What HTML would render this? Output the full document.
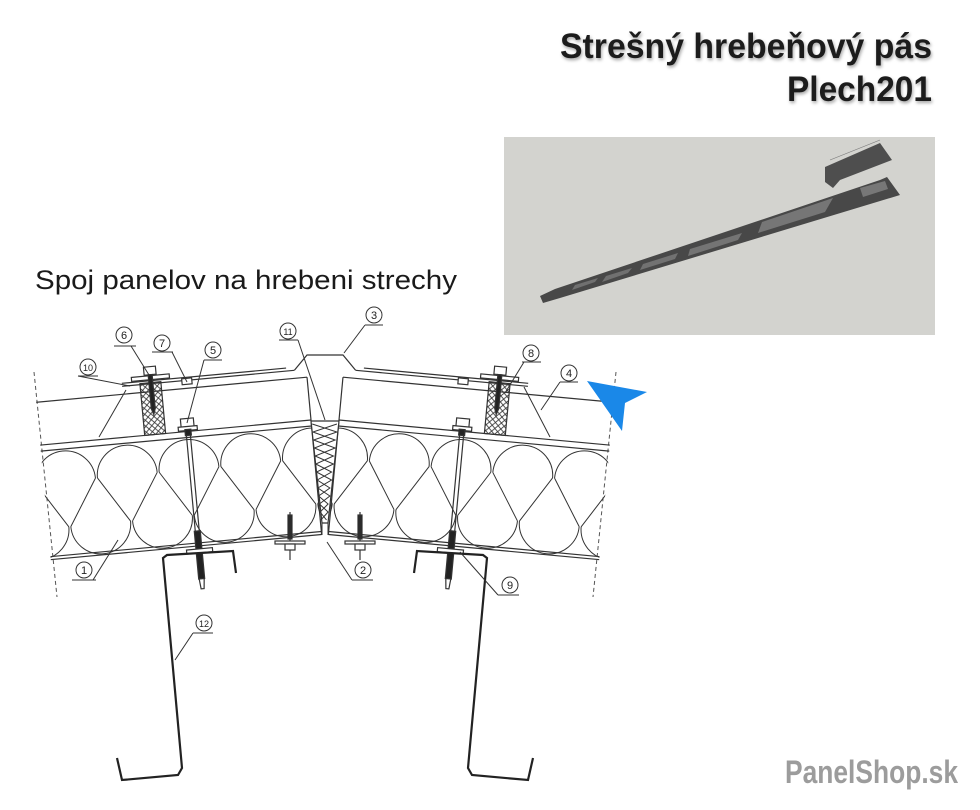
<!DOCTYPE html>
<html><head><meta charset="utf-8"><style>
html,body{margin:0;padding:0;background:#fff;}
svg{display:block;}
</style></head><body>
<svg width="980" height="810" viewBox="0 0 980 810" xmlns="http://www.w3.org/2000/svg" font-family="Liberation Sans, sans-serif">
<defs>
<pattern id="hatch" width="6" height="6" patternUnits="userSpaceOnUse">
<path d="M0,0L6,6M6,0L0,6" stroke="#333" stroke-width="0.8"/>
</pattern>
<clipPath id="pc"><rect x="-272" y="-80" width="272" height="200"/></clipPath>
<filter id="sh" x="-5%" y="-20%" width="110%" height="150%"><feDropShadow dx="1" dy="2" stdDeviation="1.5" flood-color="#000" flood-opacity="0.35"/></filter>
<g id="half" stroke="#333" stroke-width="1.2" fill="none">
  <g transform="translate(311,420) rotate(-5.3)">
    <g clip-path="url(#pc)">
      <line x1="-290" y1="-43" x2="0" y2="-43"/>
      <line x1="-290" y1="0" x2="0" y2="0"/>
      <line x1="-290" y1="6" x2="0" y2="6"/>
      <line x1="-290" y1="112" x2="0" y2="112"/>
      <line x1="-290" y1="115" x2="0" y2="115"/>
      <path stroke-width="1" d="M-342,38A30,30 0 0 1 -282,38 M-280,38A30,30 0 0 1 -220,38 M-218,38A30,30 0 0 1 -158,38 M-156,38A30,30 0 0 1 -96,38 M-94,38A30,30 0 0 1 -34,38 M-32,38A30,30 0 0 1 28,38
      M-311,84A30,30 0 0 0 -251,84 M-249,84A30,30 0 0 0 -189,84 M-187,84A30,30 0 0 0 -127,84 M-125,84A30,30 0 0 0 -65,84 M-63,84A30,30 0 0 0 -3,84 M-1,84A30,30 0 0 0 59,84
      M-282,38L-311,84 M-342,38L-313,84 M-220,38L-249,84 M-280,38L-251,84 M-158,38L-187,84 M-218,38L-189,84 M-96,38L-125,84 M-156,38L-127,84 M-34,38L-63,84 M-94,38L-65,84 M28,38L-1,84 M-32,38L-3,84"/>
    </g>
    <line x1="0" y1="-43" x2="0" y2="115"/>
    <line x1="-185" y1="-51" x2="-12" y2="-51"/>
    <line x1="-185" y1="-54" x2="-20" y2="-54"/>
    <rect x="-167" y="-52" width="21" height="52" fill="url(#hatch)"/>
    <rect x="-175" y="-59" width="38" height="4" fill="#fff"/>
    <rect x="-162" y="-68" width="12" height="8" fill="#fff"/>
    <path d="M-158,-60L-154,-60L-154,-26L-156,-20L-158,-26Z" fill="#222"/>
    <rect x="-125" y="-53" width="10" height="6" fill="#fff"/>
    <line x1="-125.5" y1="-4" x2="-125.5" y2="148"/>
    <line x1="-121.5" y1="-4" x2="-121.5" y2="148"/>
    <rect x="-130" y="-13" width="13" height="9" fill="#fff"/>
    <rect x="-133" y="-5" width="19" height="4" fill="#fff"/>
    <rect x="-126.5" y="-2" width="6" height="6" fill="#222"/>
    <rect x="-126.5" y="100" width="6" height="48" fill="#222"/>
    <path d="M-126,148L-121,148L-122,158L-125,158Z" fill="#fff"/>
    <rect x="-136" y="118" width="26" height="4" fill="#fff"/>
  </g>
  <polyline points="294.4,370.3 307,355 325,355"/>
  <rect x="288" y="515" width="4" height="24" fill="#222"/>
  <line x1="290" y1="512" x2="290" y2="560"/>
  <rect x="275" y="541" width="30" height="3" fill="#fff"/>
  <rect x="285" y="544" width="10" height="6" fill="#fff"/>
  <path stroke-width="2.2" stroke="#222" d="M236,573L233,551L167,555L163,558L182,768L178,775L122,780L117,758"/>
</g>
</defs>

<g filter="url(#sh)" fill="#1e1e1e" font-weight="bold">
<text x="932" y="58" font-size="35" text-anchor="end" textLength="372" lengthAdjust="spacingAndGlyphs">Strešný hrebeňový pás</text>
<text x="932" y="101" font-size="35" text-anchor="end" textLength="145" lengthAdjust="spacingAndGlyphs">Plech201</text>
</g>

<rect x="504" y="137" width="431" height="198" fill="#d3d3cf"/>
<g>
  <polygon points="540,296 555,289 880,180 887,177 900,195 560,298 543,303" fill="#484848"/>
  <polygon points="572,290 595,282 598,278 575,285" fill="#707070"/>
  <polygon points="602,282 628,273 632,268 606,276" fill="#707070"/>
  <polygon points="640,270 675,259 678,253 643,264" fill="#727272"/>
  <polygon points="688,256 738,240 742,233 690,249" fill="#747474"/>
  <polygon points="758,233 825,212 833,198 762,222" fill="#767676"/>
  <polygon points="863,197 888,189 885,181 860,188" fill="#777"/>
  <polygon points="825,167 880,143 892,160 840,180 833,188 825,182" fill="#4e4e4e"/>
  <line x1="830" y1="160" x2="880" y2="140" stroke="#777" stroke-width="0.6"/>
</g>

<text x="35" y="289" font-size="27" fill="#1a1a1a" textLength="422" lengthAdjust="spacingAndGlyphs">Spoj panelov na hrebeni strechy</text>

<line x1="34" y1="372" x2="57" y2="597" stroke="#555" stroke-width="1" stroke-dasharray="4,3"/>
<line x1="616" y1="372" x2="593" y2="597" stroke="#555" stroke-width="1" stroke-dasharray="4,3"/>

<use href="#half"/>
<use href="#half" transform="translate(650,0) scale(-1,1)"/>

<g stroke="#333" stroke-width="1" fill="none">
<polygon points="311,421 339,421 328,523 322,523" fill="#fff" stroke-width="1.2"/>
<polyline points="312.2,424 336.9,432 313.6,440 335.1,448 315.1,456 333.4,464 316.5,472 331.6,480 317.9,488 329.9,496 319.4,504 328.1,512 320.8,520"/>
<polyline points="336.9,424 312.9,432 335.1,440 314.4,448 333.4,456 315.8,464 331.6,472 317.2,480 329.9,488 318.6,496 328.1,504 320.1,512 326.5,520"/>
<line x1="322" y1="523" x2="322" y2="535"/>
<line x1="328" y1="523" x2="328" y2="535"/>
</g>

<g stroke="#333" stroke-width="1" fill="none">
  <circle cx="124" cy="335" r="8"/><line x1="114" y1="346" x2="136" y2="346"/><line x1="131" y1="346" x2="149" y2="375"/>
  <circle cx="162" cy="343" r="8"/><line x1="152" y1="352" x2="173" y2="352"/><line x1="172" y1="352" x2="187" y2="382"/>
  <circle cx="213" cy="350" r="8"/><line x1="204" y1="360" x2="222" y2="360"/><line x1="204" y1="360" x2="187" y2="423"/>
  <circle cx="88" cy="367" r="8"/><line x1="78" y1="376" x2="98" y2="376"/><line x1="78" y1="376" x2="130" y2="386"/><line x1="99" y1="437" x2="126" y2="390"/>
  <circle cx="288" cy="331" r="8"/><line x1="279" y1="340" x2="298" y2="340"/><line x1="298" y1="340" x2="325" y2="420"/>
  <circle cx="374" cy="315" r="8"/><line x1="365" y1="325" x2="383" y2="325"/><line x1="365" y1="325" x2="344" y2="353"/>
  <circle cx="531" cy="353" r="8"/><line x1="522" y1="362" x2="541" y2="362"/><line x1="524" y1="362" x2="505" y2="393"/>
  <circle cx="569" cy="373" r="8"/><line x1="560" y1="382" x2="578" y2="382"/><line x1="560" y1="382" x2="541" y2="410"/><line x1="524" y1="387" x2="550" y2="437"/>
  <circle cx="84" cy="570" r="8"/><line x1="72" y1="580" x2="96" y2="580"/><line x1="93" y1="580" x2="118" y2="540"/>
  <circle cx="363" cy="570" r="8"/><line x1="352" y1="580" x2="373" y2="580"/><line x1="352" y1="580" x2="327" y2="542"/>
  <circle cx="510" cy="585" r="8"/><line x1="498" y1="595" x2="519" y2="595"/><line x1="498" y1="595" x2="460" y2="552"/>
  <circle cx="204" cy="623" r="8"/><line x1="193" y1="633" x2="213" y2="633"/><line x1="193" y1="633" x2="175" y2="660"/>
</g>
<g font-size="11" fill="#222" text-anchor="middle">
  <text x="124" y="339">6</text><text x="162" y="347">7</text><text x="213" y="354">5</text>
  <text x="88" y="371" font-size="9">10</text><text x="288" y="335" font-size="9">11</text>
  <text x="374" y="319">3</text><text x="531" y="357">8</text><text x="569" y="377">4</text>
  <text x="84" y="574">1</text><text x="363" y="574">2</text><text x="510" y="589">9</text>
  <text x="204" y="627" font-size="9">12</text>
</g>

<polygon points="587,381 647,392 625,403 622,431" fill="#1a88e8"/>

<text x="785" y="783" font-size="32" font-weight="bold" fill="#9c9c9c" textLength="173" lengthAdjust="spacingAndGlyphs">PanelShop.sk</text>
</svg>
</body></html>
